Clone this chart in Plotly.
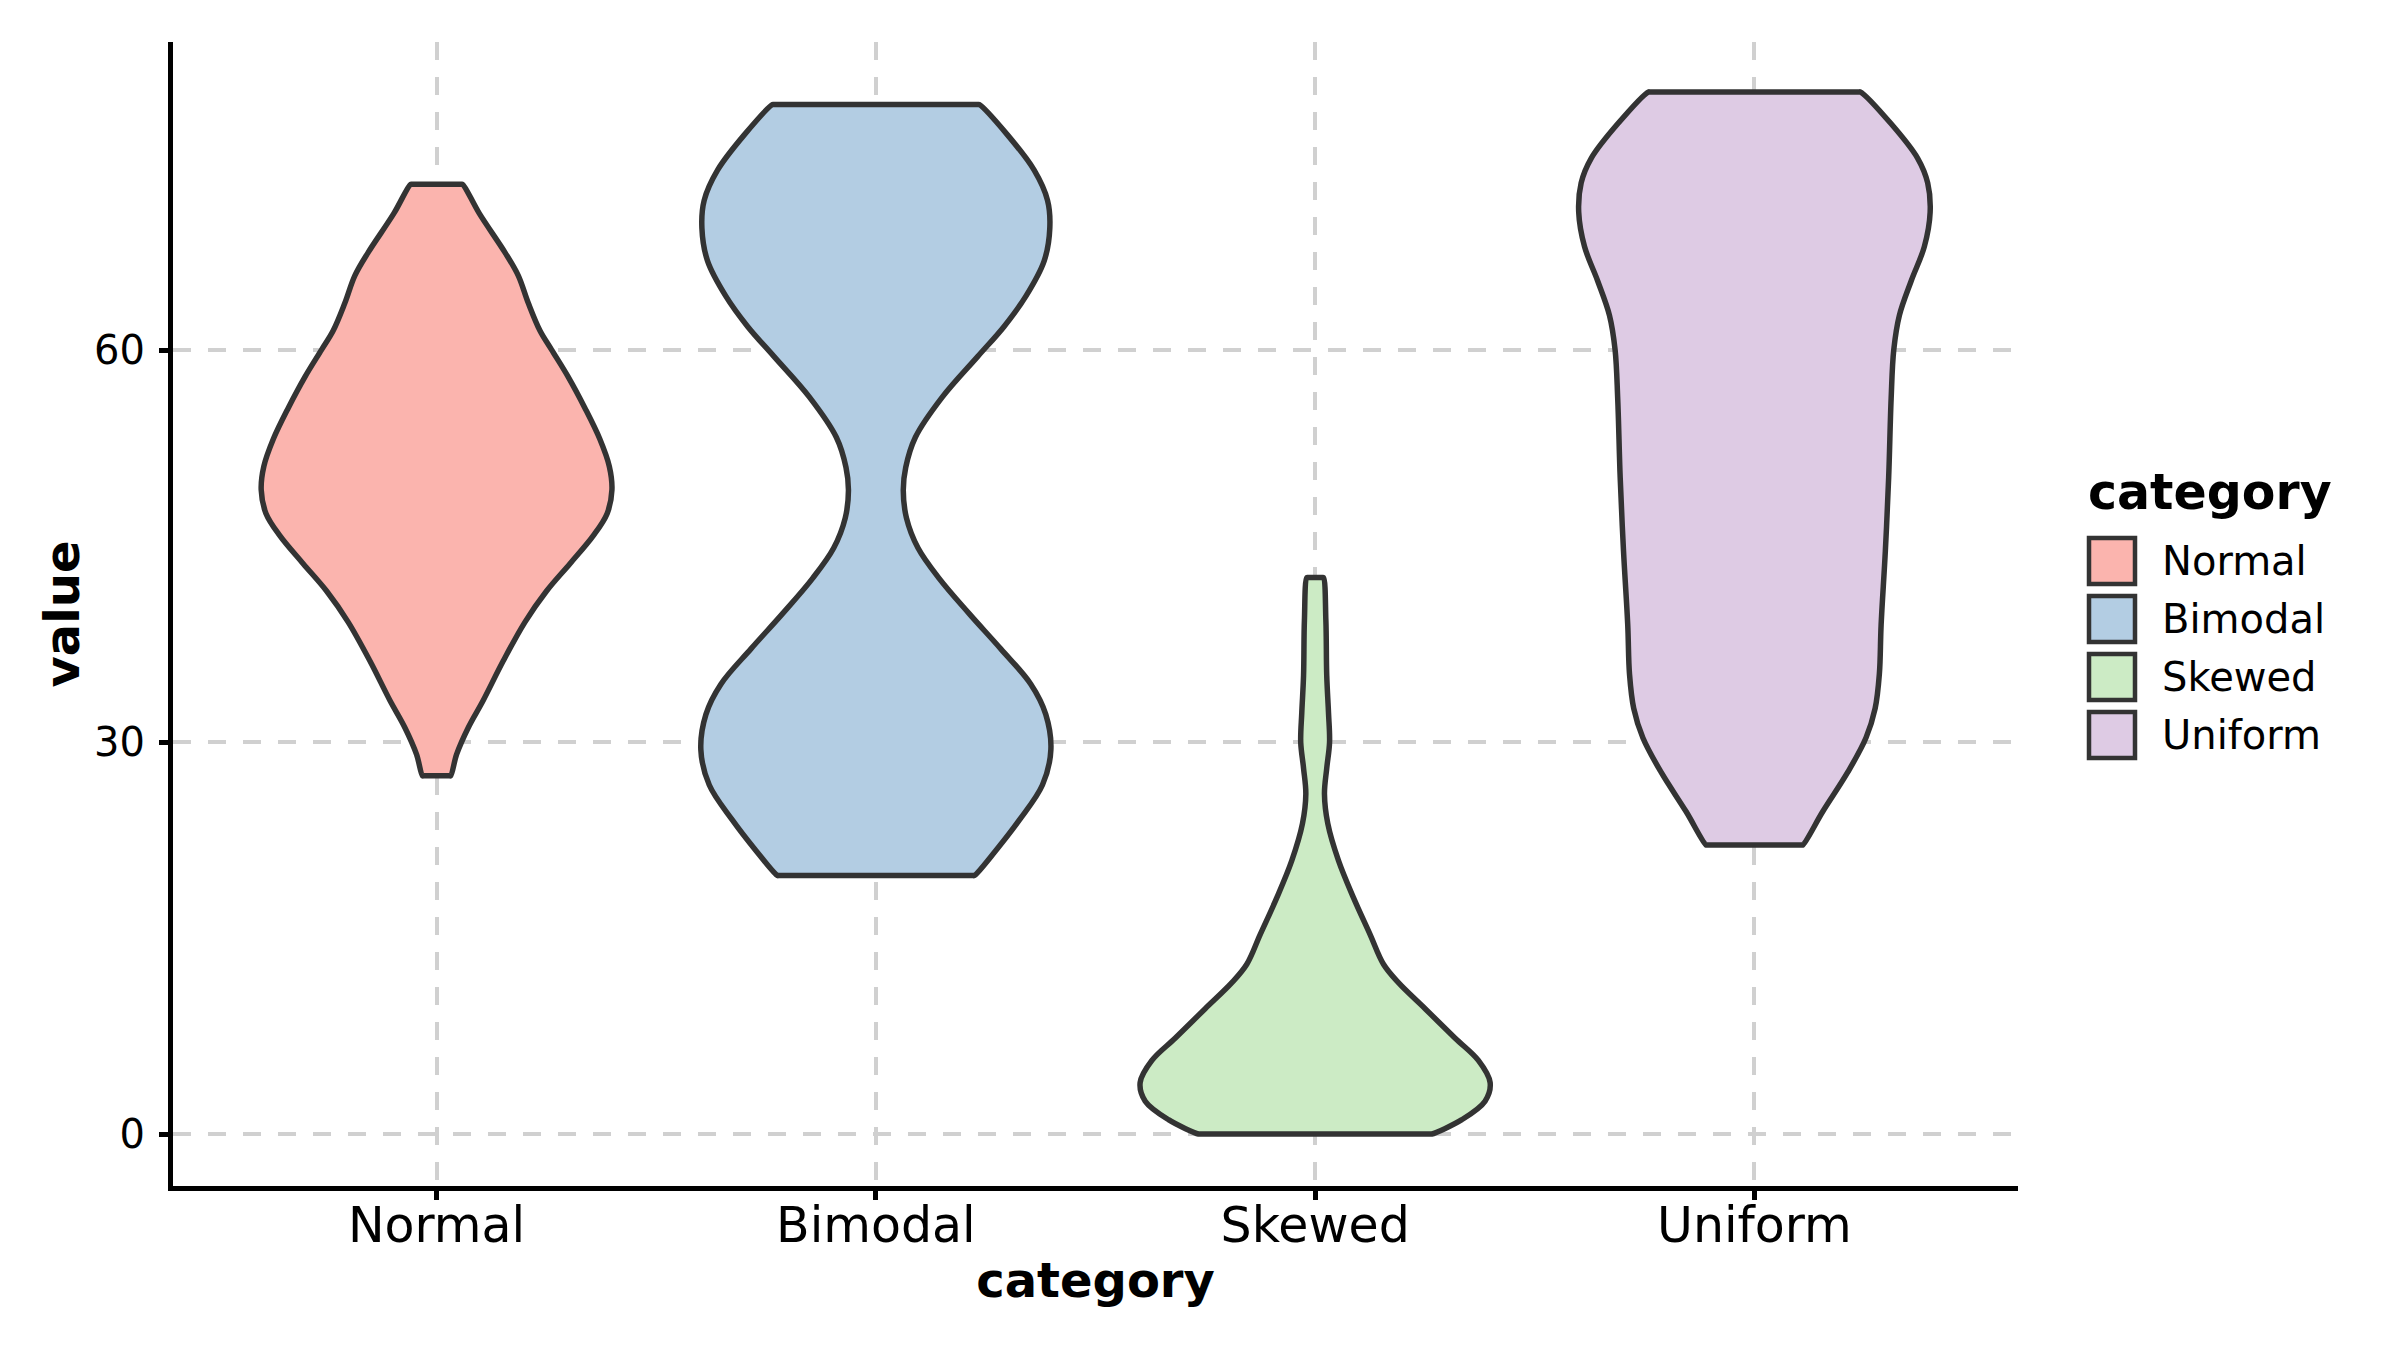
import plotly.graph_objects as go

# ---------------- data ----------------
categories = ["Normal", "Bimodal", "Skewed", "Uniform"]

normal_values = [27.42, 29.06, 31.1, 33.2, 36.2, 39.18, 41.56, 43.65, 45.8, 47.5, 49.3, 51.1, 53.19,
                 55.57, 57.95, 60.04, 61.5, 63.6, 65.7, 67.48, 70.46, 72.69]
normal_density = [0.080, 0.114, 0.180, 0.266, 0.379, 0.503, 0.626, 0.759, 0.892, 0.971, 0.998, 0.983, 0.929,
                  0.844, 0.749, 0.654, 0.588, 0.522, 0.465, 0.389, 0.243, 0.148]

bimodal_values = [19.78, 21.7, 24.02, 26.71, 29.41, 32.12, 34.43, 37.13, 39.83, 42.53, 44.85, 47.16, 49.28,
                  51.02, 53.33, 56.42, 59.5, 61.81, 64.13, 66.83, 69.34, 71.46, 73.77, 76.47, 78.79]
bimodal_density = [0.560, 0.683, 0.816, 0.948, 0.996, 0.967, 0.882, 0.711, 0.531, 0.360, 0.240, 0.174, 0.156,
                   0.170, 0.225, 0.379, 0.579, 0.730, 0.854, 0.958, 0.990, 0.977, 0.901, 0.749, 0.588]

skewed_values = [0.0, 1.1, 2.51, 3.93, 5.63, 7.33, 9.59, 11.58, 12.99, 15.26, 18.09, 20.92, 23.76, 26.02,
                 28.0, 29.98, 32.25, 35.08, 39.33, 42.59]
skewed_density = [0.664, 0.835, 0.967, 0.996, 0.929, 0.797, 0.626, 0.474, 0.389, 0.313, 0.218, 0.133, 0.072, 0.053,
                  0.066, 0.082, 0.076, 0.066, 0.061, 0.047]

uniform_values = [22.12, 24.68, 27.69, 30.33, 32.58, 35.21, 38.97, 44.61, 50.25, 56.26, 60.02, 62.66, 65.29,
                  67.92, 70.55, 72.8, 74.68, 77.32, 79.76]
uniform_density = [0.275, 0.389, 0.531, 0.635, 0.687, 0.711, 0.721, 0.745, 0.764, 0.778, 0.793, 0.825, 0.892,
                   0.967, 1.000, 0.986, 0.929, 0.778, 0.603]

y_tick_values = [0, 30, 60]

# ---------------- styling ----------------
fill_colors = ["#FBB4AE", "#B3CDE3", "#CCEBC5", "#DECBE4"]
outline_color = "#333333"
max_half_width = 0.40
corner_eps = 0.003
FONT = "DejaVu Sans"

OFF = 8                     # default body margin of the html page
W, H = 2400 - OFF, 1351 - OFF
L, T = 165, 34
plot_w, plot_h = 1845, 1144
R = W - L - plot_w
B = H - T - plot_h

series = [
    (normal_values, normal_density),
    (bimodal_values, bimodal_density),
    (skewed_values, skewed_density),
    (uniform_values, uniform_density),
]

fig = go.Figure()
for i, (cat, (vals, dens), col) in enumerate(zip(categories, series, fill_colors)):
    pos = i + 1
    hw = [max_half_width * d for d in dens]
    top, bot = vals[-1], vals[0]
    xs = [pos + h for h in hw]
    ys = list(vals)
    # flat top edge (sharp corners)
    xs += [pos + hw[-1] - corner_eps, pos - hw[-1] + corner_eps]
    ys += [top, top]
    xs += [pos - h for h in reversed(hw)]
    ys += list(reversed(vals))
    # flat bottom edge
    xs += [pos - hw[0] + corner_eps, pos + hw[0] - corner_eps, pos + hw[0]]
    ys += [bot, bot, bot]
    fig.add_trace(go.Scatter(
        x=xs, y=ys, mode="lines", fill="toself", fillcolor=col,
        line=dict(color=outline_color, width=5.5, shape="spline", smoothing=1),
        name=cat, showlegend=False, hoverinfo="skip",
    ))

grid = dict(showgrid=True, gridcolor="#D0D0D0", gridwidth=4, griddash="18px,17px",
            zeroline=False, showline=True, linecolor="black", linewidth=5,
            ticks="outside", ticklen=9, tickwidth=5, tickcolor="black")

fig.update_layout(
    width=W, height=H, autosize=False,
    margin=dict(l=L, r=R, t=T, b=B, pad=0),
    paper_bgcolor="white", plot_bgcolor="white",
    showlegend=False,
    font=dict(family=FONT, color="black"),
    xaxis=dict(range=[0.4, 4.6], tickmode="array", tickvals=[1, 2, 3, 4], ticktext=categories,
               tickfont=dict(family=FONT, size=49, color="black"), ticklabelstandoff=-17,
               title=dict(text="category", font=dict(family=FONT, size=48, weight="bold", color="black"), standoff=12),
               **grid),
    yaxis=dict(range=[-3.98, 83.58], tickmode="array", tickvals=y_tick_values,
               tickfont=dict(family=FONT, size=40, color="black"), ticklabelstandoff=6,
               title=dict(text="value", font=dict(family=FONT, size=48, weight="bold", color="black"), standoff=1),
               **grid),
)

# ---------------- legend drawn as shapes + text ----------------
def px_x(px):
    return (px - OFF - L) / plot_w

def px_y(py):
    return (T + plot_h - (py - OFF)) / plot_h

fig.add_annotation(x=px_x(2086), y=px_y(492), xref="paper", yref="paper", text="<b>category</b>",
                   showarrow=False, xanchor="left", yanchor="middle",
                   font=dict(family=FONT, size=49, color="black"))
key_centers = [561, 619, 677, 735]
for cat, col, cy in zip(categories, fill_colors, key_centers):
    fig.add_shape(type="rect", xref="paper", yref="paper",
                  x0=px_x(2112 - 23), x1=px_x(2112 + 23), y0=px_y(cy + 23), y1=px_y(cy - 23),
                  fillcolor=col, line=dict(color=outline_color, width=4.5))
    fig.add_annotation(x=px_x(2160), y=px_y(cy), xref="paper", yref="paper", text=cat,
                       showarrow=False, xanchor="left", yanchor="middle",
                       font=dict(family=FONT, size=40, color="black"))

fig.write_html("out.html", config={"displayModeBar": False})
